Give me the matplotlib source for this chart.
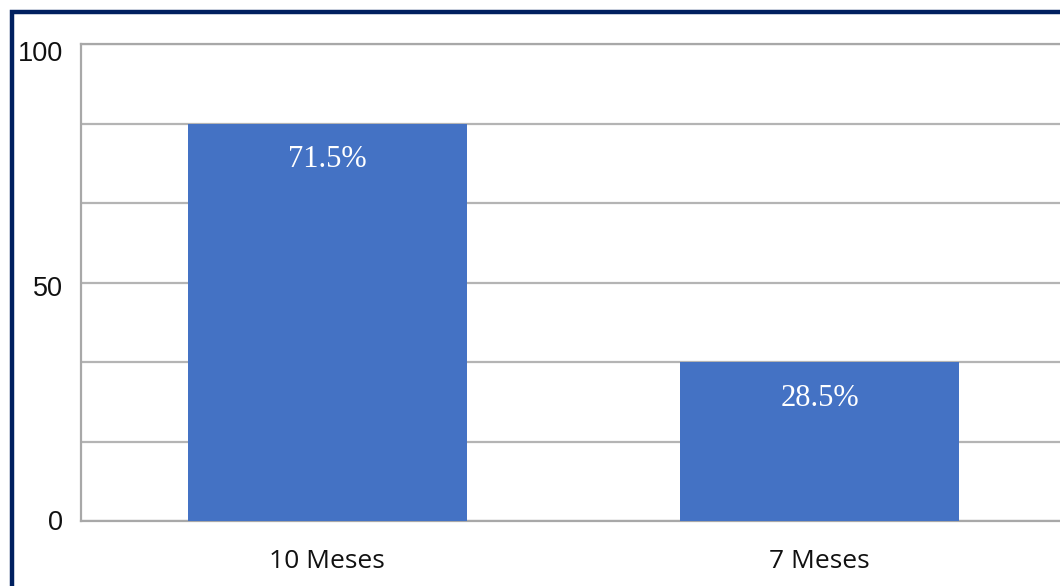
import matplotlib
matplotlib.use("Agg")
import matplotlib.pyplot as plt
from matplotlib.patches import Rectangle
from matplotlib.transforms import ScaledTranslation

categories = ["10 Meses", "7 Meses"]
bar_values = [83.33, 33.33]
bar_labels = ["71.5%", "28.5%"]
ytick_values = [0, 50, 100]
grid_values = [0, 100/6, 200/6, 50, 400/6, 500/6, 100]

W, H = 1060, 586
fig = plt.figure(figsize=(W/100, H/100), dpi=100)
fig.patch.set_facecolor("white")

# outer navy frame (extends beyond right/bottom edge)
fig.patches.append(Rectangle((12/W, -0.1), 1.2, (586-12)/H + 0.1, transform=fig.transFigure,
                             fill=False, edgecolor="#002060", linewidth=3.2, zorder=0))

ax = fig.add_axes([81/W, (H-521)/H, (1066-81)/W, (521-44)/H])
ax.set_xlim(-0.5, 1.5)
ax.set_ylim(0, 100)
x = list(range(len(categories)))
bars = ax.bar(x, bar_values, width=0.566, color="#4472c4", zorder=3)

for g in grid_values:
    ax.axhline(g, color="#b4b4b4", linewidth=1.6, zorder=1)

for b, lab in zip(bars, bar_labels):
    ax.text(b.get_x() + b.get_width()/2, b.get_height() - 4.6, lab, ha="center", va="top",
            color="white", fontsize=22, family="Liberation Serif", zorder=4)

ax.set_xticks(x)
ax.set_xticklabels(categories, fontsize=19, family="Open Sans", color="#111111")
ax.set_yticks(ytick_values)
ax.set_yticklabels([str(v) for v in ytick_values], fontsize=19.5, family="Liberation Sans", color="#111111")
ax.tick_params(axis="both", length=0)
ax.tick_params(axis="x", pad=20)
ax.tick_params(axis="y", pad=13)
# small vertical nudges of y tick labels, as in the reference
shifts_px = [-1, 3, 7]
for lbl, s in zip(ax.get_yticklabels(), shifts_px):
    lbl.set_transform(lbl.get_transform() + ScaledTranslation(0, -s/100, fig.dpi_scale_trans))
for s in ["right"]:
    ax.spines[s].set_visible(False)
for s in ["left", "top", "bottom"]:
    ax.spines[s].set_color("#a8a8a8")
    ax.spines[s].set_linewidth(1.6)
ax.set_facecolor("white")

fig.savefig("out.png", dpi=100)
